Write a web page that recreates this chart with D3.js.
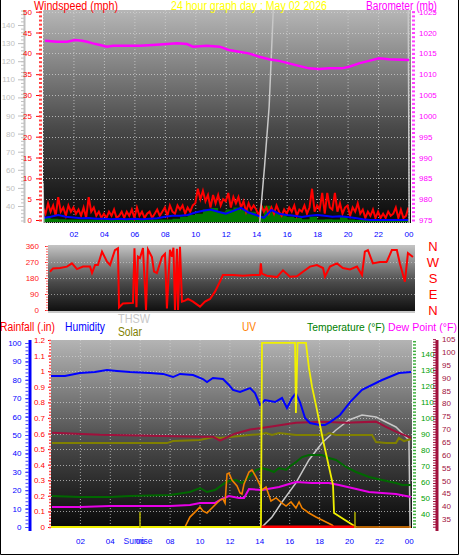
<!DOCTYPE html>
<html><head><meta charset="utf-8">
<script src="https://cdn.jsdelivr.net/npm/d3@7"></script>
<style>body{margin:0;background:#fff}svg{display:block}text{font-family:"Liberation Sans",Arial,sans-serif}</style>
</head><body><svg id="c" width="459" height="555"></svg>
<script>
// ---------------- DATA ----------------
const title = "24 hour graph day : May 02 2026";
const xTicks = [2,4,6,8,10,12,14,16,18,20,22,24];
// Panel 1: wind (mph), barometer (mb)
const gustStepHours = 1/6;
const gust = [3,1.5,4,2,3.5,1, 5.5,2,3,1,3.5,2, 3,1.5,2.5,1,3,0.5, 5.5,2,3,1,2,0.5,
  1.5,0.5,2,1,2.5,0.5, 1,2,0.5,2,1,2.5, 0.5,3,1,2,0.5,1.5, 2,0.5,1.5,2.5,1,2,
  3,1,3.5,2,1.5,3.5, 2.5,3.5,1.5,3,2,3.5, 4,7.5,5,7,4.5,6, 3,6,4,6,3.5,5,
  4.5,6.5,3,5.5,4,5.5, 3,4.5,2,4,2.5,3.5, 2.5,1,3.5,2,3,1.5, 3,1.5,3.5,2,1,2.5,
  1.5,3,2,3.5,1,2.5, 2,3.5,1.5,3,7.5,2, 3.5,2.5,6.5,1.5,6.5,3, 2.5,6.5,2,4,1.5,3,
  3.5,1,3,2,4,1.5, 2.5,0.5,2,1,2.5,0.5, 2,0.5,1.5,0.5,2,1, 1.5,3,0.5,2.5,0.5,1, 3];
const halfHourStep = 0.5;
const avgWind = [0.5,0.8,1.2,0.8,0.6,0.4,0.5,0.3,0.3,0.2,0.3,0.2,0.3,0.2,0.3,0.4,0.8,1.0,1.0,1.2,
  1.8,2.2,2.5,2.0,1.5,2.2,2.9,1.8,1.2,0.5,2.4,1.5,1.2,1.0,0.7,1.0,1.2,1.0,0.8,0.9,0.7,0.5,0.2,0,0,0,0,0,0];
const lowWind = [0.5,0.3,0.2,0.1,0.1,0.1,0.1,0.1,0.1,0.1,0.1,0.1,0.1,0.1,0.1,0.1,0.1,0.3,0.8,1.2,
  1.5,2.5,2.9,2.0,2.5,3.0,2.5,2.0,1.0,3.4,2.0,1.5,0.8,0.5,0.2,0.8,0.1,0.2,0.1,0.8,0.1,0,0,0,0,0,0,0,0];
const baroHours = [0.13,0.92,1.58,2.1,2.56,2.89,3.28,3.74,4.2,4.6,5.5,6.37,7.2,8.14,8.8,9.45,9.85,10.77,11.6,
  12.2,12.87,13.5,14.2,14.84,15.5,16.15,16.8,17.46,18.1,18.78,19.63,20.1,20.75,21.4,22.06,22.7,24.03];
const baro = [1018.0,1017.8,1017.8,1018.2,1018.0,1017.8,1017.4,1017.0,1016.6,1016.8,1016.8,1016.8,1017.0,1017.25,
  1017.4,1017.25,1016.6,1016.8,1016.6,1015.8,1015.4,1015.0,1014.2,1013.6,1013.2,1012.6,1012.0,1011.4,1011.25,
  1011.4,1011.4,1011.8,1012.6,1013.2,1013.8,1013.6,1013.4];
const greyHours = [0,0.08,14.22,14.55,14.85,15.12,15.3,23.97,24.05];
const greyVals = [53,20,30,62,95,148,175,175,20];
// Panel 2: wind direction (deg)
const dirHours = [0,0.2,0.66,1.12,1.45,1.78,2.18,2.64,2.77,2.97,3.16,3.43,3.76,3.96,4.28,4.48,4.55,4.81,5.47,5.57,
  5.7,5.8,5.93,6.13,6.33,6.46,6.72,6.86,7.05,7.38,7.58,7.71,7.91,8.04,8.14,8.24,8.37,8.44,8.57,8.7,8.9,9.1,9.43,
  9.89,10.22,10.55,10.88,11.2,11.4,12.06,12.72,13.38,13.84,13.9,13.97,14.3,14.96,15.36,15.82,16.28,16.68,17.14,
  17.6,18.0,18.13,18.46,18.92,19.31,19.78,20.24,20.57,20.76,20.96,21.29,21.75,22.2,22.54,22.87,23.07,23.4,23.6,23.93];
const dirVals = [215,234,236,244,262,230,244,244,208,253,253,328,272,253,337,347,15,37,40,347,
  15,300,292,348,0,340,298,216,208,298,316,9,339,300,350,0,345,0,355,47,53,62,47,
  19,47,62,103,159,197,197,193,197,197,262,205,193,185,223,187,190,215,244,
  253,236,187,244,262,236,228,244,197,328,337,262,270,270,337,337,262,159,320,298];
const dirLetters = ["N","W","S","E","N"];
const dirLetterVals = [360,270,180,90,0];
// Panel 3
const humHours = [0,1,2,3,3.81,4.48,5.35,6.69,7.56,8.23,8.7,9.57,10.23,10.5,10.9,11.57,11.97,12.24,12.71,13.38,
  13.71,14.05,14.38,15.05,15.52,15.85,16.19,16.45,16.72,17.06,17.39,18.06,18.39,18.73,19.4,20.07,20.87,22.21,23.34,24.15];
const humidity = [82.1,82.1,83.7,84.2,85.3,84.8,84.2,83.7,83.2,81.5,83.2,82.6,80.4,78.8,81,80.4,77.2,74.5,73.4,75.5,
  72.8,66.3,69,67.9,70.1,64.7,70.1,72.8,67.9,59.2,56.5,55.4,55.4,57,60.9,67.9,74.5,79.9,83.7,84.2];
const tempHours = [0.13,2,4,5.35,8.03,9.36,10.03,10.5,11.04,11.7,11.97,12.44,12.84,13.31,13.78,14.18,14.65,14.98,
  15.32,15.79,15.99,16.46,16.86,17.32,18.19,18.66,19.13,19.8,20.47,21.34,22.21,23.14,23.55,24.15];
const temperature = [51.25,50.6,50.6,51.25,51.9,53.75,56.25,53.75,55,59.4,60.6,61.25,59.4,63.1,67.5,68.75,67.5,66.25,
  68.75,67.5,69.4,72.5,75.6,76.9,76.9,75,73.75,69.4,66.25,63.1,61.25,59.4,58.1,58.1];
const dewHours = [0.13,2,4,6,8.03,9.36,10.03,11.04,11.5,11.97,12.64,12.98,13.31,14.18,15.32,15.99,16.46,17.53,18.66,
  19.33,20.2,21.34,22.21,23.14,24.15];
const dewPoint = [44.4,44.4,45,45,45,45.6,46.9,46.9,49.4,51.25,50,50,55.6,55,56.9,58.75,60,59.4,59.4,
  58.1,56.25,53.75,53.1,52.5,50.6];
const inTempHours = [0.13,3.34,6.69,10.03,10.9,11.37,11.77,12.37,13.38,14.72,16.45,18.19,19.8,21.8,22.47,23.14,24.15];
const inTemp = [68.6,67.8,67.4,67.0,67.0,65.5,66.6,68.2,69.8,70.9,72.5,72.9,72.5,72.9,70.9,69.0,66.6];
const inHumHours = [0.13,3.34,7.83,8.23,10.03,10.9,11.37,12.04,13.31,14.18,14.45,14.85,15.32,16.45,17.53,18.46,18.66,
  19.13,21.54,21.81,22.47,23.14,23.34,23.68,24.15];
const inHum = [45.6,45.6,45.6,46.7,47.3,48.9,48.4,48.9,50,50.5,51.1,50,51.1,50,50,50,51.1,50,50,46.2,45.6,45.6,48.4,46.7,47.8];
const solarHours = [0,14.11,14.18,16.39,16.45,16.56,17.12,17.32,17.53,17.86,18.26,18.93,19.0,19.73,20.47];
const solar = [0,0,995,995,616,995,995,860,757,632,470,227,76,38,0];
const uvHours = [9.03,9.36,9.83,10.03,10.23,10.5,10.9,11.37,11.57,11.71,11.84,11.97,12.17,12.51,12.71,12.84,12.98,
  13.31,13.51,13.78,13.98,14.18,14.45,14.78,15.12,15.52,15.79,16.12,16.45,16.66,16.86,17.32,17.79,18.46,18.86,19.0,24.15];
const uv = [0,0.54,0.92,1.09,0.87,0.76,1.09,1.47,1.52,1.3,2.88,2.93,2.55,2.23,1.85,1.79,2.34,
  2.99,3.1,2.72,2.39,2.01,2.17,1.41,1.58,1.3,1.14,1.36,1.03,1.36,1.03,0.76,0.54,0.27,0.11,0,0];
const thswHours = [14.18,14.85,15.52,16.45,17.32,18.19,19.13,20.0,20.87,21.81,22.47,23.14,23.55,24.01,24.1];
const thsw = [31.9,38.1,47.5,59.4,73.75,84.4,92.5,98.75,101.9,100.6,97.5,94.4,90.6,86.25,20];
const rainHours = [14.15,20.45];
const rain = [0,0];
const sunEvents = [6.02,20.4];
const sunriseLabel = "Sunrise";

// ---------------- DRAW ----------------
const svg = d3.select("#c");
const defs = svg.append("defs");
const FONT = '"Liberation Sans",Arial,sans-serif';
function grad(id,y1,y2,c1,c2){
  const g=defs.append("linearGradient").attr("id",id).attr("gradientUnits","userSpaceOnUse")
    .attr("x1",0).attr("x2",0).attr("y1",y1).attr("y2",y2);
  g.append("stop").attr("offset",0).attr("stop-color",c1);
  g.append("stop").attr("offset",0.55).attr("stop-color","#4a4a4a");
  g.append("stop").attr("offset",1).attr("stop-color",c2);
}
function clip(id,x,y,w,h){defs.append("clipPath").attr("id",id).append("rect").attr("x",x).attr("y",y).attr("width",w).attr("height",h);}
const zip=(a,b)=>a.map((h,i)=>[h,b[i]]);
const P1={l:43,r:411,t:10,b:223}, P2={l:48,r:415,t:245,b:313}, P3={l:51,r:412,t:340,b:528};
grad("g1",P1.t,P1.b,"#b6b6b6","#080808");
grad("g2",P2.t,P2.b,"#c4c4c4","#0c0c0c");
grad("g3",P3.t,P3.b,"#b4b4b4","#080808");
clip("c1",P1.l,P1.t,P1.r-P1.l,P1.b-P1.t);
clip("c2",P2.l,P2.t,P2.r-P2.l,P2.b-P2.t);
clip("c3",P3.l,P3.t,P3.r-P3.l,P3.b-P3.t);
clip("ca1",0,9,459,300);
clip("ca3",0,337,459,218);

function text(x,y,s,color,size,len,anchor){
  const t=svg.append("text").attr("x",x).attr("y",y).text(s).attr("fill",color)
    .style("font-size",size+"px").style("font-family",FONT).attr("text-anchor",anchor||"start");
  if(len) t.attr("textLength",len).attr("lengthAdjust","spacingAndGlyphs");
  return t;
}
function styleAxis(g,color,fs){
  g.select(".domain").remove();
  g.selectAll("line").attr("stroke",color);
  g.selectAll("text").attr("fill",color).style("font-size",fs+"px").style("font-family",FONT);
}
const fmtH = d=>String(d%24).padStart(2,"0");

// ---------- Panel 1 ----------
const x1=d3.scaleLinear().domain([0,24]).range([43,408.5]);
const yW=d3.scaleLinear().domain([0,50]).range([220,11.7]);
const yB=d3.scaleLinear().domain([975,1025]).range([220,11.7]);
const yG=d3.scaleLinear().domain([40,140]).range([206,25]);
svg.append("rect").attr("x",P1.l).attr("y",P1.t).attr("width",P1.r-P1.l).attr("height",P1.b-P1.t).attr("fill","url(#g1)");
const grid1=svg.append("g").attr("stroke","#d4d4d4").attr("stroke-dasharray","1,2").attr("opacity",0.75);
grid1.selectAll(".v").data([0].concat(xTicks)).join("line").attr("x1",d=>x1(d)+0.5).attr("x2",d=>x1(d)+0.5).attr("y1",P1.t).attr("y2",P1.b);
grid1.selectAll(".h").data(d3.range(5,51,5)).join("line").attr("y1",d=>Math.round(yW(d))+0.5).attr("y2",d=>Math.round(yW(d))+0.5).attr("x1",P1.l).attr("x2",P1.r);
svg.append("line").attr("x1",P1.l).attr("x2",P1.r).attr("y1",P1.b-0.5).attr("y2",P1.b-0.5).attr("stroke","#b0b0b0").attr("stroke-dasharray","1,1");
const d1=svg.append("g").attr("clip-path","url(#c1)");
const gustData=gust.map((v,i)=>[i*gustStepHours,v]);
const avgData=avgWind.map((v,i)=>[i*halfHourStep,v]);
const lowData=lowWind.map((v,i)=>[i*halfHourStep,v]);
d1.append("path").datum(lowData).attr("fill","#007800")
  .attr("d",d3.area().x(d=>x1(d[0])).y0(yW(0)+2).y1(d=>yW(d[1])).curve(d3.curveStepAfter));
d1.append("path").datum(gustData).attr("fill","none").attr("stroke","#ff0000").attr("stroke-width",2)
  .attr("d",d3.line().x(d=>x1(d[0])).y(d=>yW(d[1])));
d1.append("path").datum(avgData).attr("fill","none").attr("stroke","#0000ff").attr("stroke-width",2)
  .attr("d",d3.line().x(d=>x1(d[0])).y(d=>yW(d[1])));
d1.append("path").datum(zip(greyHours,greyVals)).attr("fill","none").attr("stroke","#c8c8c8").attr("stroke-width",1.5)
  .attr("d",d3.line().x(d=>x1(d[0])).y(d=>yG(d[1])));
d1.append("path").datum(zip(baroHours,baro)).attr("fill","none").attr("stroke","#ff00ff").attr("stroke-width",2.5)
  .attr("d",d3.line().x(d=>x1(d[0])).y(d=>yB(d[1])));
// axes panel1
const a1=svg.append("g").attr("clip-path","url(#ca1)");
let g;
g=a1.append("g").attr("transform","translate(24,0)").call(d3.axisLeft(yG).tickValues(d3.range(40,141,10)).tickSize(6).tickPadding(3));
styleAxis(g,"#c0c0c0",8);
g=a1.append("g").attr("transform","translate(24,0)").call(d3.axisLeft(yG).tickValues(d3.range(32,149,2)).tickSize(3).tickFormat(""));
styleAxis(g,"#c0c0c0",8);
a1.append("line").attr("x1",24.5).attr("x2",24.5).attr("y1",P1.t).attr("y2",P1.b).attr("stroke","#c0c0c0").attr("stroke-width",2);
g=a1.append("g").attr("transform","translate(42,0)").call(d3.axisLeft(yW).tickValues(d3.range(0,51,5)).tickSize(6).tickPadding(4));
styleAxis(g,"#ff0000",8);
g=a1.append("g").attr("transform","translate(42,0)").call(d3.axisLeft(yW).tickValues(d3.range(0,51,1)).tickSize(3).tickFormat(""));
styleAxis(g,"#ff4040",8); g.selectAll("line").attr("stroke-width",2);
g=a1.append("g").attr("transform","translate(412,0)").call(d3.axisRight(yB).tickValues(d3.range(975,1026,5)).tickSize(3).tickPadding(4).tickFormat(d3.format("d")));
styleAxis(g,"#ff00ff",8);
g=a1.append("g").attr("transform","translate(412,0)").call(d3.axisRight(yB).tickValues(d3.range(975,1026,1)).tickSize(3).tickFormat(""));
styleAxis(g,"#ff40ff",8); g.selectAll("line").attr("stroke-width",2);
g=svg.append("g").attr("transform",`translate(0,${P1.b})`).call(d3.axisBottom(x1).tickValues(xTicks).tickSize(0).tickPadding(8).tickFormat(fmtH));
styleAxis(g,"#0000ff",8);
text(34,10,"Windspeed (mph)","#ff0000",12,84);
text(171,10,title,"#ffff00",12,156);
text(366,10,"Barometer (mb)","#ff00ff",12,71);

// ---------- Panel 2 ----------
const x2=d3.scaleLinear().domain([0,24]).range([50,414]);
const yD=d3.scaleLinear().domain([0,360]).range([310,246]);
svg.append("rect").attr("x",P2.l).attr("y",P2.t).attr("width",P2.r-P2.l).attr("height",P2.b-P2.t).attr("fill","url(#g2)");
const grid2=svg.append("g").attr("stroke","#d4d4d4").attr("stroke-dasharray","1,2").attr("opacity",0.6);
grid2.selectAll(".h").data([90,180,270]).join("line").attr("y1",d=>Math.round(yD(d))+0.5).attr("y2",d=>Math.round(yD(d))+0.5).attr("x1",P2.l).attr("x2",P2.r);
svg.append("line").attr("x1",P2.l).attr("x2",P2.r).attr("y1",312).attr("y2",312).attr("stroke","#c8c8c8").attr("stroke-width",2);
svg.append("g").attr("clip-path","url(#c2)").append("path").datum(zip(dirHours,dirVals)).attr("fill","none")
  .attr("stroke","#ff0000").attr("stroke-width",2).attr("d",d3.line().x(d=>x2(d[0])).y(d=>yD(d[1])));
g=svg.append("g").attr("transform","translate(48,0)").call(d3.axisLeft(yD).tickValues([0,90,180,270,360]).tickSize(3).tickPadding(6));
styleAxis(g,"#ff2020",8);
g=svg.append("g").attr("transform","translate(48,0)").call(d3.axisLeft(yD).tickValues(d3.range(0,361,15)).tickSize(2).tickFormat(""));
styleAxis(g,"#ff6060",8);
svg.append("g").selectAll("text").data(dirLetters).join("text").attr("x",433).attr("y",(d,i)=>yD(dirLetterVals[i])+5)
  .attr("text-anchor","middle").attr("fill","#ff0000").style("font-size","13px").style("font-family",FONT).text(d=>d);

// ---------- Panel 3 ----------
const x3=d3.scaleLinear().domain([0,24]).range([50,408.8]);
const yH=d3.scaleLinear().domain([0,100]).range([527,343]);
const yR=d3.scaleLinear().domain([0,1.2]).range([527,340]);
const yT=d3.scaleLinear().domain([40,140]).range([514,354]);
const yDP=d3.scaleLinear().domain([35,100]).range([519,352]);
const yS=d3.scaleLinear().domain([0,1000]).range([527,342]);
const yU=d3.scaleLinear().domain([0,10]).range([527,343]);
svg.append("rect").attr("x",P3.l).attr("y",P3.t).attr("width",P3.r-P3.l).attr("height",P3.b-P3.t).attr("fill","url(#g3)");
const grid3=svg.append("g").attr("stroke","#d4d4d4").attr("stroke-dasharray","1,2").attr("opacity",0.7);
grid3.selectAll(".v").data(xTicks.slice(0,-1)).join("line").attr("x1",d=>x3(d)+0.5).attr("x2",d=>x3(d)+0.5).attr("y1",P3.t).attr("y2",P3.b);
grid3.selectAll(".h").data(d3.range(1,12).map(d=>d/10)).join("line").attr("y1",d=>Math.round(yR(d))+0.5).attr("y2",d=>Math.round(yR(d))+0.5).attr("x1",P3.l).attr("x2",P3.r);
const d3g=svg.append("g").attr("clip-path","url(#c3)");
const ln=(ys)=>d3.line().x(d=>x3(d[0])).y(d=>ys(d[1]));
d3g.append("path").datum(zip(thswHours,thsw)).attr("fill","none").attr("stroke","#c8c8c8").attr("stroke-width",1.5).attr("d",ln(yT));
d3g.append("path").datum(zip(inHumHours,inHum)).attr("fill","none").attr("stroke","#808000").attr("stroke-width",2).attr("d",ln(yH));
d3g.append("path").datum(zip(inTempHours,inTemp)).attr("fill","none").attr("stroke","#a0103c").attr("stroke-width",2).attr("d",ln(yDP));
d3g.append("path").datum(zip(tempHours,temperature)).attr("fill","none").attr("stroke","#006800").attr("stroke-width",2).attr("d",ln(yT));
d3g.append("path").datum(zip(dewHours,dewPoint)).attr("fill","none").attr("stroke","#e800e8").attr("stroke-width",2).attr("d",ln(yT));
d3g.append("path").datum(zip(uvHours,uv)).attr("fill","none").attr("stroke","#f08000").attr("stroke-width",1.6).attr("d",ln(yU));
d3g.append("path").datum(zip(humHours,humidity)).attr("fill","none").attr("stroke","#0000ff").attr("stroke-width",2).attr("d",ln(yH));
d3g.append("path").datum(zip(solarHours,solar)).attr("fill","none").attr("stroke","#f0f000").attr("stroke-width",1.8).attr("d",ln(yS));
d3g.append("path").datum(zip(rainHours,rain)).attr("fill","none").attr("stroke","#ff0000").attr("stroke-width",3).attr("d",ln(yR));
d3g.selectAll(".sun").data(sunEvents).join("line").attr("x1",d=>x3(d)).attr("x2",d=>x3(d)).attr("y1",512).attr("y2",P3.b)
  .attr("stroke","#b0b000").attr("stroke-width",1.5);
// axes panel3
const a3=svg.append("g").attr("clip-path","url(#ca3)");
a3.append("line").attr("x1",30).attr("x2",30).attr("y1",P3.t).attr("y2",531).attr("stroke","#0000ff").attr("stroke-width",3);
g=a3.append("g").attr("transform","translate(28.5,0)").call(d3.axisLeft(yH).tickValues(d3.range(0,101,10)).tickSize(3).tickPadding(4));
styleAxis(g,"#0000ff",8);
g=a3.append("g").attr("transform","translate(28.5,0)").call(d3.axisLeft(yH).tickValues(d3.range(0,101,2)).tickSize(3).tickFormat(""));
styleAxis(g,"#4040ff",8);
g=a3.append("g").attr("transform","translate(51,0)").call(d3.axisLeft(yR).tickValues(d3.range(0,13).map(d=>d/10)).tickSize(3).tickPadding(3).tickFormat(d=>d3.format("~g")(+d.toFixed(1))));
styleAxis(g,"#ff0000",8);
g=a3.append("g").attr("transform","translate(51,0)").call(d3.axisLeft(yR).tickValues(d3.range(0,61).map(d=>d/50)).tickSize(2).tickFormat(""));
styleAxis(g,"#ff5050",8); g.selectAll("line").attr("stroke-width",1.5);
g=a3.append("g").attr("transform","translate(413,0)").call(d3.axisRight(yT).tickValues(d3.range(40,141,10)).tickSize(3).tickPadding(5));
styleAxis(g,"#00a000",8);
g=a3.append("g").attr("transform","translate(413,0)").call(d3.axisRight(yT).tickValues(d3.range(32,149,2)).tickSize(3).tickFormat(""));
styleAxis(g,"#40b040",8); g.selectAll("line").attr("stroke-width",1.5);
a3.append("line").attr("x1",437).attr("x2",437).attr("y1",P3.t).attr("y2",531).attr("stroke","#a0103c").attr("stroke-width",3);
g=a3.append("g").attr("transform","translate(438,0)").call(d3.axisRight(yDP).tickValues(d3.range(35,106,5)).tickSize(0).tickPadding(4));
styleAxis(g,"#a0103c",8);
g=a3.append("g").attr("transform","translate(436,0)").call(d3.axisLeft(yDP).tickValues(d3.range(32,106,1)).tickSize(3).tickFormat(""));
styleAxis(g,"#a0103c",8);
g=svg.append("g").attr("transform",`translate(0,${P3.b})`).call(d3.axisBottom(x3).tickValues(xTicks).tickSize(0).tickPadding(10).tickFormat(fmtH));
styleAxis(g,"#0000ff",8);
svg.append("text").attr("x",x3(sunEvents[0])-2).attr("y",544).attr("text-anchor","middle").attr("fill","#2020ff")
  .style("font-size","8.5px").style("font-family",FONT).text(sunriseLabel);
text(0,331,"Rainfall (.in)","#ff0000",12,55);
text(65,331,"Humidity","#0000ff",12,40);
text(118,323,"THSW","#c8c8c8",12,32);
text(118,336,"Solar","#808000",12,24);
text(242,331,"UV","#ff8000",12,14);
text(307,331,"Temperature (°F)","#008000",11,78);
text(388,331,"Dew Point (°F)","#ff00ff",11,69);

// frame
svg.append("path").attr("d","M0.5,0V554.5H458.5V0").attr("fill","none").attr("stroke","#000");
</script></body></html>
